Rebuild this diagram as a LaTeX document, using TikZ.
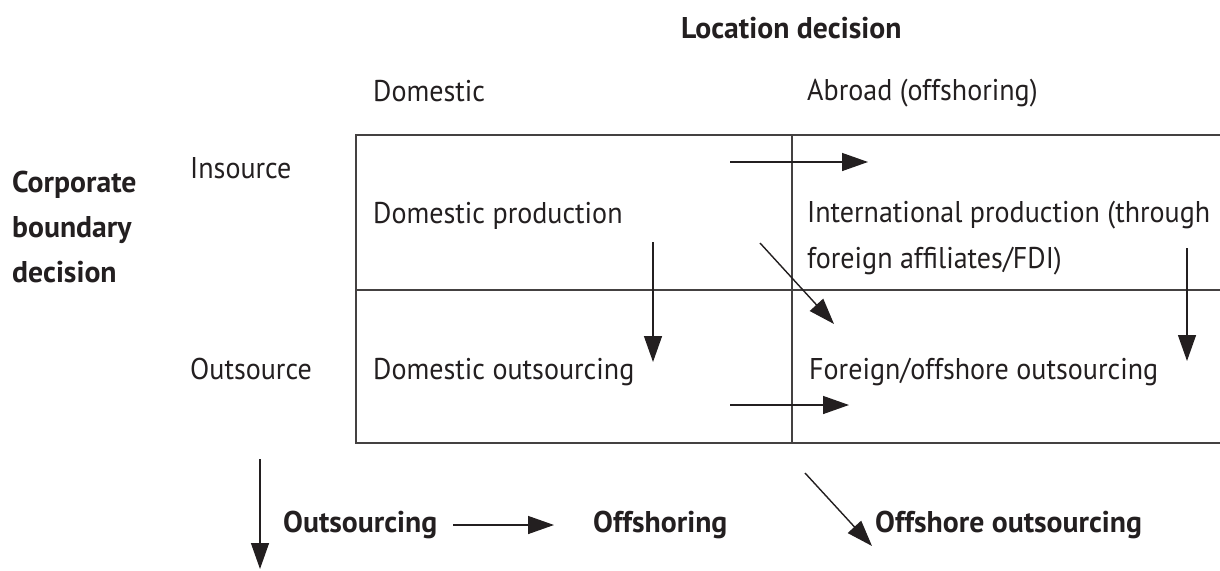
\documentclass[tikz,border=0pt]{standalone}
\usepackage{fontspec}
\setmainfont{PT Sans}[FakeStretch=0.935, BoldFeatures={FakeStretch=0.99}]
\usetikzlibrary{arrows.meta}
\definecolor{ink}{HTML}{231F20}
\tikzset{
  lbl/.style={anchor=base west, inner sep=0pt, text=ink, font=\fontsize{30}{36}\selectfont},
  blbl/.style={lbl, font=\fontsize{30}{36}\selectfont\bfseries},
  grid/.style={line width=1.6pt, draw=ink!85},
  arr/.style={line width=1.4pt, draw=ink, -{Triangle[length=26pt,width=18pt]}, fill=ink}
}
\begin{document}
\begin{tikzpicture}[x=1pt,y=-1pt]
\useasboundingbox (0,0) rectangle (1220,570);
% grid
\coordinate (tl) at (356,135);
\coordinate (tr) at (1222,135);
\coordinate (ml) at (356,290);
\coordinate (mr) at (1222,290);
\coordinate (bl) at (356,443);
\coordinate (br) at (1222,443);
\coordinate (vt) at (792,135);
\coordinate (vb) at (792,443);
\draw[grid] (tr) -- (tl) -- (bl) -- (br);
\draw[grid] (ml) -- (mr);
\draw[grid] (vt) -- (vb);
% labels
\node[blbl] (loc) at (681,38) {Location decision};
\node[lbl] (dom) at (373,101) {Domestic};
\node[lbl] (abr) at (807,100) {Abroad (offshoring)};
\node[blbl] (corp1) at (12,192) {Corporate};
\node[blbl] (corp2) at (12,237) {boundary};
\node[blbl] (corp3) at (12,282) {decision};
\node[lbl] (ins) at (190,178) {Insource};
\node[lbl] (outs) at (190,379) {Outsource};
\node[lbl] (dprod) at (373,223) {Domestic production};
\node[lbl] (iprod1) at (807,222) {International production (through};
\node[lbl] (iprod2) at (807,268) {foreign affiliates/FDI)};
\node[lbl] (dout) at (373,379) {Domestic outsourcing};
\node[lbl] (fout) at (809,379) {Foreign/offshore outsourcing};
\node[blbl] (bout) at (283,532) {Outsourcing};
\node[blbl] (boff) at (593,532) {Offshoring};
\node[blbl] (boo) at (875,532) {Offshore outsourcing};
% arrow ends
\coordinate (a1s) at (730,162); \coordinate (a1e) at (868,162);
\coordinate (a2s) at (730,405); \coordinate (a2e) at (849,405);
\coordinate (a3s) at (653,242); \coordinate (a3e) at (653,362);
\coordinate (a4s) at (1187,248); \coordinate (a4e) at (1187,361);
\coordinate (a5s) at (760,243); \coordinate (a5e) at (834,324);
\coordinate (b1s) at (260,459); \coordinate (b1e) at (260,569);
\coordinate (b2s) at (453,525); \coordinate (b2e) at (554,525);
\coordinate (b3s) at (805,473); \coordinate (b3e) at (872,546);
\draw[arr] (a1s) -- (a1e);
\draw[arr] (a2s) -- (a2e);
\draw[arr] (a3s) -- (a3e);
\draw[arr] (a4s) -- (a4e);
\draw[arr] (a5s) -- (a5e);
\draw[arr] (b1s) -- (b1e);
\draw[arr] (b2s) -- (b2e);
\draw[arr] (b3s) -- (b3e);
\end{tikzpicture}
\end{document}
